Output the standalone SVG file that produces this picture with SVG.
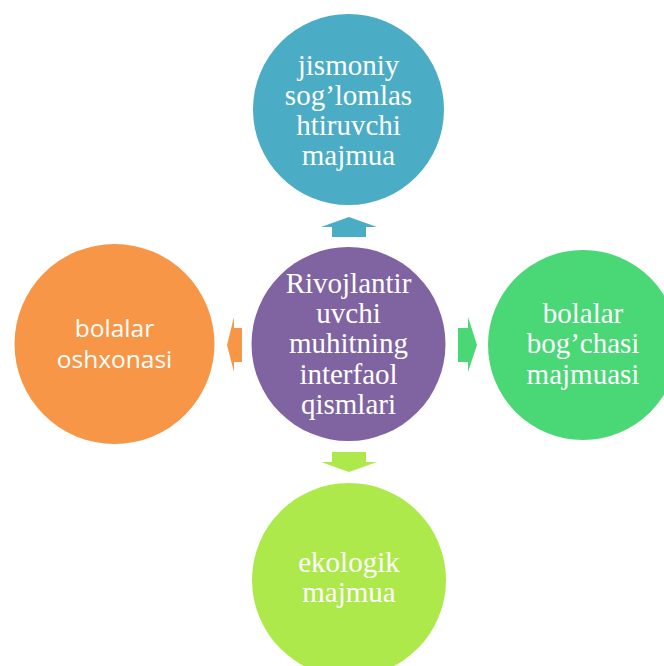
<svg xmlns="http://www.w3.org/2000/svg" width="664" height="666" viewBox="0 0 664 666">
<style>
.serif{font-family:"Liberation Serif","Times New Roman",serif;font-size:29px;fill:#ffffff;text-anchor:middle}
.sans{font-family:"Open Sans","Liberation Sans",sans-serif;font-size:24.5px;fill:#ffffff;text-anchor:middle}
</style>
<rect width="664" height="666" fill="#ffffff"/>
<g id="connectors">
<polygon points="332,237 332,227 321,227 349,217 377,227 366,227 366,237" fill="#4BACC6"/>
<polygon points="458,328 468,328 468,317 477,345 468,372 468,362 458,362" fill="#4AD775"/>
<polygon points="242,328 234,328 234,317 227,345 234,372 234,362 242,362" fill="#F79646"/>
<polygon points="332,452 366,452 366,462 377,462 349,472 321,462 332,462" fill="#ADE94A"/>
</g>
<g id="center">
<circle cx="348.5" cy="344" r="97" fill="#8064A2"/>
<text class="serif" x="348.5" y="292.5">Rivojlantir</text>
<text class="serif" x="348.5" y="322.5">uvchi</text>
<text class="serif" x="348.5" y="353">muhitning</text>
<text class="serif" x="348.5" y="384">interfaol</text>
<text class="serif" x="348.5" y="413.5">qismlari</text>
</g>
<g id="top">
<circle cx="348.5" cy="109.5" r="95.5" fill="#4BACC6"/>
<text class="serif" x="348.5" y="75">jismoniy</text>
<text class="serif" x="348.5" y="105">sog’lomlas</text>
<text class="serif" x="348.5" y="135">htiruvchi</text>
<text class="serif" x="348.5" y="165">majmua</text>
</g>
<g id="right">
<circle cx="583" cy="345" r="95" fill="#4AD775"/>
<text class="serif" x="583" y="322.5">bolalar</text>
<text class="serif" x="583" y="353">bog’chasi</text>
<text class="serif" x="583" y="383.5">majmuasi</text>
</g>
<g id="left">
<circle cx="114.5" cy="344" r="100" fill="#F79646"/>
<text class="sans" x="114.5" y="337">bolalar</text>
<text class="sans" x="114.5" y="368">oshxonasi</text>
</g>
<g id="bottom">
<circle cx="349" cy="580" r="97" fill="#ADE94A"/>
<text class="serif" x="349" y="572">ekologik</text>
<text class="serif" x="349" y="602">majmua</text>
</g>
</svg>
